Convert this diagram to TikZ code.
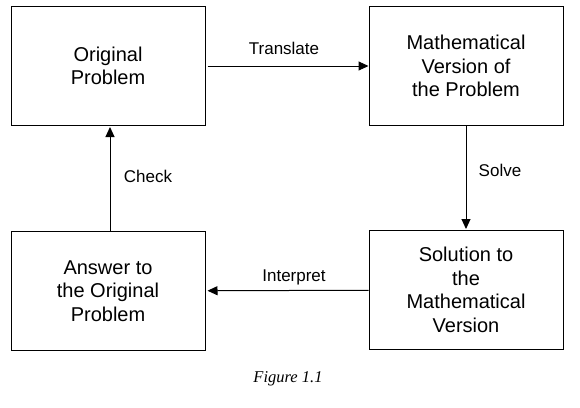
\documentclass[tikz,border=0pt]{standalone}
\usepackage{fontspec}
\setmainfont{Liberation Sans}
\newfontfamily\capfont{Liberation Serif}
\usepackage{tikz}
\usetikzlibrary{arrows.meta}

\tikzset{
    stagebox/.style={draw, line width=1pt, minimum width=194pt, minimum height=119pt,
        align=center, font=\fontsize{20}{23.5}\selectfont},
    steplabel/.style={font=\fontsize{17}{19}\selectfont},
    flow/.style={line width=1pt, -{Triangle[length=10pt,width=9pt]}}
}

\begin{document}
\begin{tikzpicture}[x=1pt,y=-1pt]
        \useasboundingbox (0,0) rectangle (580,407);

        %=== Riquadri ===
        \node[stagebox] (orig) at (108,66) {Original\\Problem};
        \node[stagebox] (mathver) at (466,66) {Mathematical\\Version of\\the Problem};
        \node[stagebox] (solution) at (466,290) {Solution to\\the\\Mathematical\\Version};
        \node[stagebox] (answer) at (108,291) {Answer to\\the Original\\Problem};

        %=== Frecce ===
        \draw[flow, shorten <=2pt] (orig) -- (mathver);
        \draw[flow, shorten >=1pt] (mathver) -- (solution);
        \draw[flow, shorten >=2pt] (solution) -- (answer);
        \draw[flow, shorten >=1pt] ([xshift=2pt]answer.north) -- ([xshift=2pt]orig.south);

        %=== Etichette ===
        \node[steplabel] (translate) at (284,48) {Translate};
        \node[steplabel] (solve) at (500,170) {Solve};
        \node[steplabel] (interpret) at (294,277) {Interpret};
        \node[steplabel] (check) at (148,176) {Check};

        \node[font=\capfont\itshape\fontsize{16.5}{18}\selectfont] (caption) at (288,379) {Figure 1.1};
    \end{tikzpicture}
\end{document}
